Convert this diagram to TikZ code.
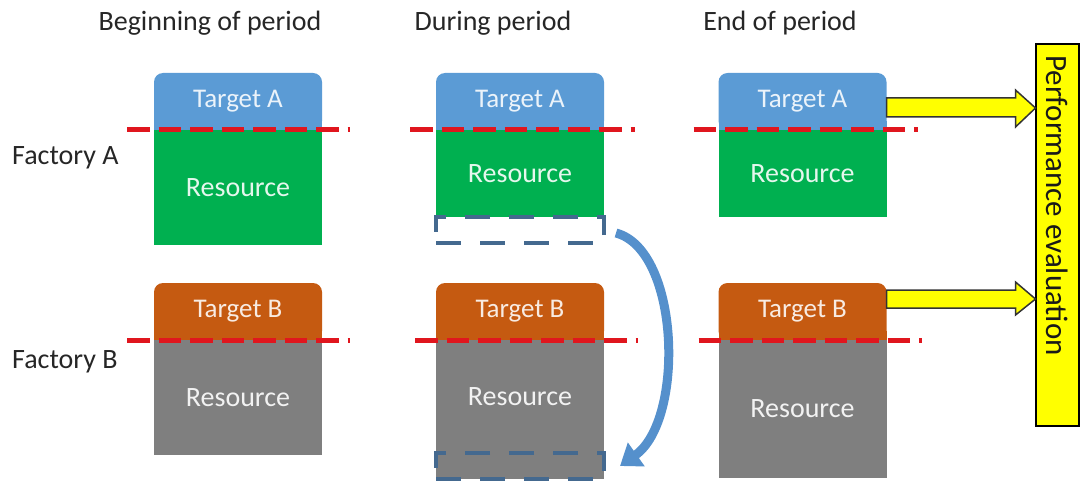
\documentclass[tikz,border=0pt]{standalone}
\usepackage{fontspec}
\setmainfont{Carlito}
\usetikzlibrary{arrows.meta,positioning}

\definecolor{targetBlue}{HTML}{5B9BD5}
\definecolor{targetOrange}{HTML}{C55A11}
\definecolor{resGreen}{HTML}{00B050}
\definecolor{resGray}{HTML}{7F7F7F}
\definecolor{cutRed}{HTML}{E0161E}
\definecolor{moveBlue}{HTML}{44698F}
\definecolor{arcBlue}{HTML}{5590CC}
\definecolor{evalYellow}{HTML}{FFFF00}
\definecolor{labelGray}{HTML}{262626}

\tikzset{
  header/.style={font=\fontsize{28}{32}\selectfont, text=labelGray, inner sep=0pt},
  factory/.style={header, anchor=west},
  target/.style={fill=#1, text=white!88!#1, rounded corners=9pt, minimum width=168pt,
    minimum height=57pt, inner sep=0pt, outer sep=0pt, font=\fontsize{27}{30}\selectfont,
    append after command={\pgfextra{\fill[#1] ([yshift=9pt]\tikzlastnode.south west)
    rectangle (\tikzlastnode.south east);}}},
  resource/.style={fill=#1, text=white!90!#1, minimum width=168pt, inner sep=0pt,
    outer sep=0pt, font=\fontsize{28}{32}\selectfont},
  cutline/.style={draw=cutRed, line width=5pt, dash pattern=on 22.5pt off 9pt},
  movebox/.style={draw=moveBlue, line width=4pt, dash pattern=on 25pt off 19pt,
    minimum width=168pt, minimum height=26pt, inner sep=0pt, outer sep=0pt},
  evalarrow/.style={fill=evalYellow, draw=black!80, line width=1.5pt, line join=miter},
  movearrow/.style={draw=arcBlue, line width=9pt, -{Triangle[length=20pt,width=28pt]}},
}

\begin{document}
\begin{tikzpicture}[x=1pt, y=-1pt]
\useasboundingbox (0,0) rectangle (1081,481);

%Column headings
\node[header] (headBegin) at (210,23) {Beginning of period};
\node[header] (headDuring) at (493,23) {During period};
\node[header] (headEnd) at (780,23) {End of period};

%Factory labels
\node[factory] (factoryA) at (12,158) {Factory A};
\node[factory] (factoryB) at (12,362) {Factory B};

%Targets
\node[target=targetBlue] (tA1) at (238,101.5) {Target A};
\node[target=targetBlue] (tA2) at (520,101.5) {Target A};
\node[target=targetBlue] (tA3) at (802.5,101.5) {Target A};
\node[target=targetOrange] (tB1) at (238,311.5) {Target B};
\node[target=targetOrange] (tB2) at (520,311.5) {Target B};
\node[target=targetOrange] (tB3) at (802.5,311.5) {Target B};

%Resources
\node[resource=resGreen, minimum height=115pt, below=0pt of tA1] (rA1) {Resource};
\node[resource=resGreen, minimum height=87pt, below=0pt of tA2] (rA2) {Resource};
\node[resource=resGreen, minimum height=87pt, below=0pt of tA3] (rA3) {Resource};
\node[resource=resGray, minimum height=115pt, below=0pt of tB1] (rB1) {Resource};
\node[resource=resGray, minimum height=113pt, below=0pt of tB2] (rB2) {Resource};
\node[resource=resGray, minimum height=138pt, below=0pt of tB3] (rB3) {Resource};

%Moved share of the resource
\node[movebox, below=0pt of rA2] (dA2) {};
\node[movebox, fill=resGray, below=0pt of rB2] (dB2) {};

%Target levels
\draw[cutline] ([xshift=-27pt]tA1.south west) -- ([xshift=28pt]tA1.south east);
\draw[cutline] ([xshift=-26pt]tA2.south west) -- ([xshift=31pt]tA2.south east);
\draw[cutline] ([xshift=-25pt]tA3.south west) -- ([xshift=31pt]tA3.south east);
\draw[cutline] ([xshift=-27pt]tB1.south west) -- ([xshift=28pt]tB1.south east);
\draw[cutline] ([xshift=-21pt]tB2.south west) -- ([xshift=34pt]tB2.south east);
\draw[cutline] ([xshift=-20pt]tB3.south west) -- ([xshift=35pt]tB3.south east);

%Evaluation
\node[draw=black, line width=2pt, fill=evalYellow, minimum width=43pt, minimum height=382pt,
  inner sep=0pt, anchor=north west] (perf) at (1035,43) {};
\node[rotate=-90, anchor=west, font=\fontsize{31}{34}\selectfont, text=black!90, inner sep=0pt]
  (perfText) at ([yshift=-12pt]perf.north) {Performance evaluation};

\draw[evalarrow] (tA3.east) ++(0,-3.5) -- ++(129,0) -- ++(0,-8) -- ++(20,18) -- ++(-20,19)
  -- ++(0,-10) -- ++(-129,0) -- cycle;
\draw[evalarrow] (tB3.east) ++(0,-21.5) -- ++(129,0) -- ++(0,-8) -- ++(20,17) -- ++(-20,16)
  -- ++(0,-7) -- ++(-129,0) -- cycle;

%Transfer
\draw[movearrow] ([xshift=12pt,yshift=-3pt]dA2.east) .. controls (680,250) and (685,420)
  .. ([xshift=16pt]dB2.east);

\end{tikzpicture}
\end{document}
